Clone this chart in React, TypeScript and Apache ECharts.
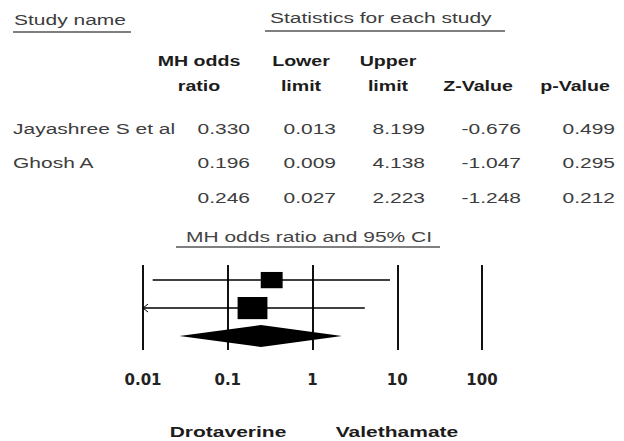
import React, { useEffect, useRef } from "react";
import * as echarts from "echarts";

// ---- data ----
const studyNames = ["Jayashree S et al", "Ghosh A", ""];
const oddsRatio = [0.33, 0.196, 0.246];
const lowerLimit = [0.013, 0.009, 0.027];
const upperLimit = [8.199, 4.138, 2.223];
const zValue = [-0.676, -1.047, -1.248];
const pValue = [0.499, 0.295, 0.212];
const relWeight = [35, 65, 100]; // relative weights (estimated from square sizes)
const isSummary = [false, false, true];
const axisTicks = [0.01, 0.1, 1, 10, 100];
const favourLabels = ["Drotaverine", "Valethamate"];
const colHeads1 = ["MH odds", "Lower", "Upper", "", ""];
const colHeads2 = ["ratio", "limit", "limit", "Z-Value", "p-Value"];

// ---- layout ----
const SX = 1.4;
const FONT = '"Liberation Sans", Arial, sans-serif';
const rowY = [129, 163, 198];
const colRight = [250, 336, 425, 521, 615];
const headCenter = [199, 301, 388, 478, 575];

function txt(text: string, x: number, y: number, opt: any = {}) {
  const size = opt.size ?? 15;
  const weight = opt.bold ? "bold" : "normal";
  const align = opt.align ?? "left";
  return {
    type: "text",
    x,
    y,
    scaleX: opt.sx ?? SX,
    silent: true,
    style: {
      text,
      fill: opt.color ?? (opt.bold ? "#1c1c1c" : "#3d3d3d"),
      font: `${weight} ${size}px ${FONT}`,
      align,
      verticalAlign: "middle",
      textAlign: align,
      textVerticalAlign: "middle",
    },
  };
}

function uline(x1: number, x2: number, y: number) {
  return {
    type: "line",
    silent: true,
    shape: { x1, y1: y, x2, y2: y },
    style: { stroke: "#555", lineWidth: 1.5 },
  };
}

export default function App() {
  const ref = useRef<HTMLDivElement>(null);
  useEffect(() => {
    if (!ref.current) return;
    const chart = echarts.init(ref.current, null, { renderer: "svg" });

    const graphics: any[] = [];
    graphics.push(txt("Study name", 14, 20));
    graphics.push(uline(13, 131, 32));
    graphics.push(txt("Statistics for each study", 270, 18));
    graphics.push(uline(265, 505, 31));
    colHeads1.forEach((h, i) => {
      if (h) graphics.push(txt(h, headCenter[i], 61, { bold: true, size: 14, align: "center" }));
    });
    colHeads2.forEach((h, i) => {
      graphics.push(txt(h, headCenter[i], 86, { bold: true, size: 14, align: "center" }));
    });
    studyNames.forEach((name, r) => {
      if (name) graphics.push(txt(name, 13, rowY[r]));
      const vals = [oddsRatio[r], lowerLimit[r], upperLimit[r], zValue[r], pValue[r]];
      vals.forEach((v, c) => {
        graphics.push(txt(v.toFixed(3), colRight[c], rowY[r], { align: "right" }));
      });
    });
    graphics.push(txt("MH odds ratio and 95% CI", 309, 237, { align: "center", color: "#444" }));
    graphics.push(uline(176, 440, 247));
    graphics.push(txt(favourLabels[0], 228, 432, { bold: true, align: "center" }));
    graphics.push(txt(favourLabels[1], 397, 432, { bold: true, align: "center" }));

    const data = oddsRatio.map((or, i) => [
      lowerLimit[i],
      or,
      upperLimit[i],
      i + 1,
      relWeight[i],
      isSummary[i] ? 1 : 0,
    ]);

    chart.setOption({
      animation: false,
      backgroundColor: "#ffffff",
      grid: { left: 143, top: 265, width: 339, height: 85 },
      xAxis: {
        type: "log",
        logBase: 10,
        min: 0.01,
        max: 100,
        axisLine: { show: false },
        axisTick: { show: false },
        splitLine: { show: true, showMinLine: true, showMaxLine: true, lineStyle: { color: "#111", width: 2 } },
        axisLabel: {
          margin: 22,
          color: "#222",
          fontWeight: "bold",
          fontSize: 15,
          fontFamily: '"DejaVu Sans", sans-serif',
          formatter: (v: number) => {
            const t = axisTicks.find((t) => Math.abs(Math.log10(t) - Math.log10(v)) < 1e-6);
            return t === undefined ? "" : String(t);
          },
        },
      },
      yAxis: { type: "value", min: 0.46, max: 3.5, inverse: true, show: false },
      series: [
        {
          type: "custom",
          clip: false,
          data,
          renderItem: (params: any, api: any) => {
            const lo = api.value(0);
            const est = api.value(1);
            const hi = api.value(2);
            const row = api.value(3);
            const w = api.value(4);
            const summ = api.value(5);
            const cs = params.coordSys;
            const xmin = cs.x;
            const xmax = cs.x + cs.width;
            const pLo = api.coord([lo, row]);
            const pEst = api.coord([est, row]);
            const pHi = api.coord([hi, row]);
            const y = pEst[1];
            const xl = Math.max(pLo[0], xmin);
            const xr = Math.min(pHi[0], xmax);
            const children: any[] = [];
            if (summ) {
              children.push({
                type: "polygon",
                shape: { points: [[xl, y], [pEst[0], y - 11], [xr, y], [pEst[0], y + 11]] },
                style: { fill: "#000" },
              });
            } else {
              children.push({
                type: "line",
                shape: { x1: xl, y1: y, x2: xr, y2: y },
                style: { stroke: "#000", lineWidth: 1.5 },
              });
              if (pLo[0] < xmin) {
                children.push({
                  type: "polyline",
                  shape: { points: [[xl + 5, y - 4], [xl, y], [xl + 5, y + 4]] },
                  style: { stroke: "#000", lineWidth: 1, fill: null },
                });
              }
              const s = Math.sqrt(w);
              const bw = 3.7 * s;
              const bh = 2.75 * s;
              children.push({
                type: "rect",
                shape: { x: pEst[0] - bw / 2, y: y - bh / 2, width: bw, height: bh },
                style: { fill: "#000" },
              });
            }
            return { type: "group", children };
          },
        },
      ],
      graphic: graphics,
    });

    return () => chart.dispose();
  }, []);

  return (
    <div
      ref={ref}
      style={{ position: "fixed", left: 0, top: 0, width: 624, height: 441, background: "#fff" }}
    />
  );
}
